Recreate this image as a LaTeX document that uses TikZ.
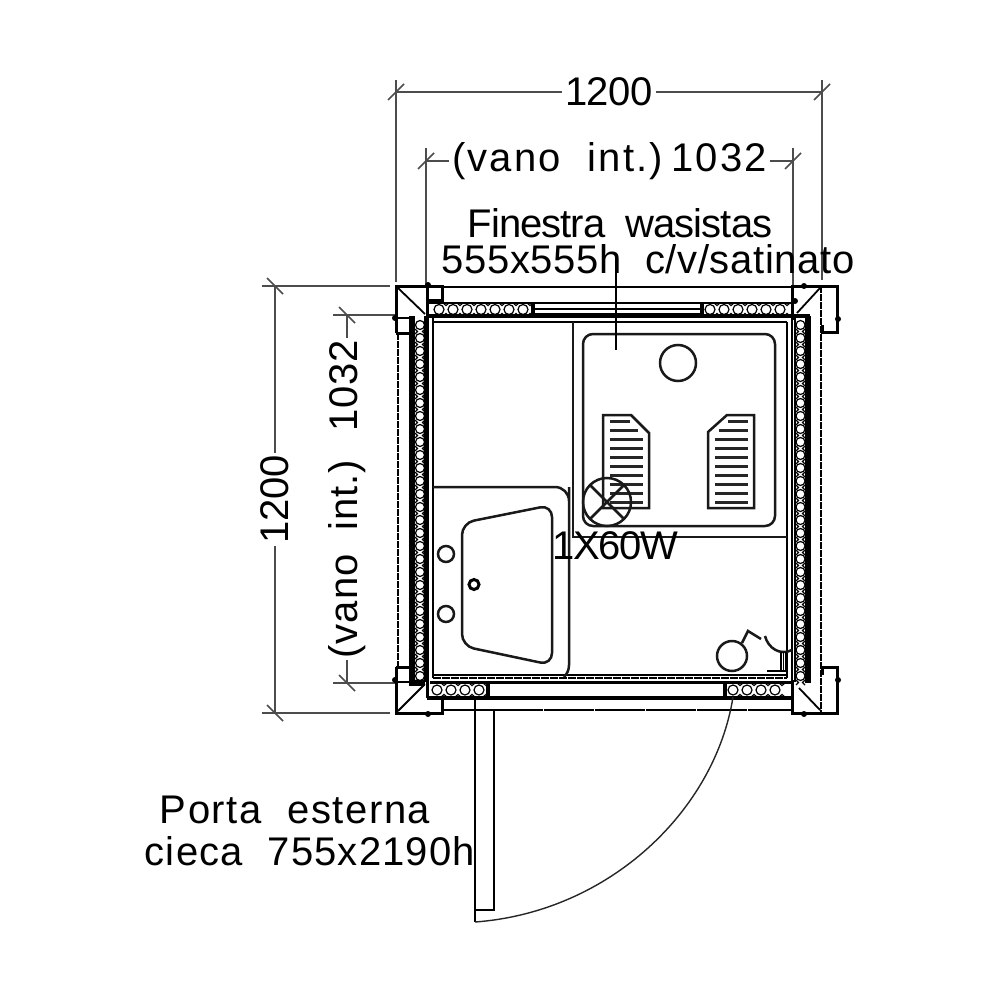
\documentclass[tikz,border=0pt]{standalone}
\usepackage{fontspec}
\newfontfamily\cadfont[WordSpace=2]{Liberation Sans}
\newcommand{\ls}[1]{\addfontfeature{LetterSpace=#1}}
\tikzset{
	txt/.style={font=\cadfont\fontsize{40}{40}\selectfont, inner sep=0pt, text=black},
	dim/.style={line width=1.5pt, black!70},
	wall/.style={line width=3pt},
	thin/.style={line width=1.8pt},
	fixture/.style={line width=2.5pt, black!90},
	hatch/.style={line width=3pt, black!85},
	peb/.style={line width=1.2pt}
}
\begin{document}
\begin{tikzpicture}[x=1pt, y=-1pt]
	\useasboundingbox (0,0) rectangle (1000,1000);
	\fill[white] (0,0) rectangle (1000,1000);
	% corners of the cabin
	\coordinate (TL) at (396,286);
	\coordinate (TR) at (837,286);
	\coordinate (BL) at (396,713);
	\coordinate (BR) at (837,713);
	% dimensions
	\coordinate (W1) at (396,92);
	\coordinate (W2) at (822,92);
	\coordinate (V1) at (426,161);
	\coordinate (V2) at (793,161);
	\coordinate (H1) at (275,286);
	\coordinate (H2) at (275,713);
	\coordinate (U1) at (347,315);
	\coordinate (U2) at (347,683);
	\draw[dim] (396,80) -- (396,282);
	\draw[dim] (822,80) -- (822,280);
	\draw[dim] (426,148) -- (426,285);
	\draw[dim] (793,148) -- (793,285);
	\draw[dim] (262,286) -- (390,286);
	\draw[dim] (262,713) -- (390,713);
	\draw[dim] (333,315) -- (395,315);
	\draw[dim] (333,683) -- (395,683);
	\draw[dim] (W1) -- node[fill=white, txt, inner xsep=3pt, inner ysep=3pt] (dimwidth) {\ls{-1}1200} (W2);
	\draw[dim] (V1) -- node[fill=white, txt, inner xsep=3pt, inner ysep=3pt] (dimvano) {\ls{5.5}(vano int.)\kern 8pt 1032} (V2);
	\draw[dim] (H1) -- node[fill=white, txt, rotate=90, inner xsep=3pt, inner ysep=3pt] (dimheight) {\ls{-1}1200} (H2);
	\draw[dim] (U1) -- node[fill=white, txt, rotate=90, inner xsep=2pt, inner ysep=3pt] (dimvanoh) {\ls{2.4}(vano int.) 1032} (U2);
	\foreach \x/\y in {396/92, 822/92, 426/161, 793/161}
		\draw[dim] ({\x-8},{\y+8}) -- ({\x+8},{\y-8});
	\foreach \x/\y in {275/286, 275/713, 347/315, 347/683}
		\draw[dim] ({\x-8},{\y-8}) -- ({\x+8},{\y+8});
	% posts
	\draw[wall] (396,333) -- (TL) -- (442,286) -- (442,300) -- (427,300) -- (427,288);
	\draw[wall] (396,333) -- (410,333);
	\draw[thin] (398,318) -- (412,318);
	\draw[wall] (822,325) -- (822,332) -- (837,332) -- (TR) -- (792,286) -- (792,320);
	\draw[wall] (396,667) -- (BL) -- (442,713) -- (442,698);
	\draw[wall] (396,667) -- (410,667);
	\draw[thin] (398,682) -- (412,682);
	\draw[wall] (822,675) -- (822,667) -- (837,667) -- (BR) -- (792,713) -- (792,680);
	\draw[thin] (398,288) -- (425,314);
	\draw[thin] (820,288) -- (797,313);
	\draw[thin] (398,711) -- (424,685);
	\draw[thin] (820,710) -- (799,688);
	\foreach \x/\y in {395/318, 428/285, 795/301, 838/319, 804/286, 395/680, 428/714, 804/714, 838/680}
		\fill (\x,\y) circle[radius=3];
	% outer skin
	\draw[wall, line width=2.6pt] (442,287) -- (792,287);
	\draw[thin, dash pattern=on 7pt off 1pt] (398,333) -- (398,667);
	\draw[thin, dash pattern=on 7pt off 1pt] (821,286) -- (821,713);
	\draw[wall, line width=2.6pt, dash pattern=on 50pt off 1pt] (442,710) -- (792,710);
	% insulated panels
	\foreach \y in {303,309,314}
		\draw[thin] (533,\y) -- (703,\y);
	\draw[thin] (427,303) -- (533,303) (703,303) -- (792,303);
	\draw[wall, line width=3.4pt] (427,316) -- (810,316);
	\draw[thin] (433,322) -- (787,322);
	\draw[line width=4.5pt] (533,303) -- (533,316);
	\draw[line width=4.5pt] (702,303) -- (702,316);
	\draw[wall] (430,682) -- (792,682);
	\draw[line width=3.8pt] (427,698) -- (792,698);
	\draw[line width=4.5pt] (488,682) -- (488,698);
	\draw[line width=4.5pt] (725,682) -- (725,698);
	\draw[thin] (433,675) -- (787,675);
	\draw[thin, dash pattern=on 8pt off 1pt] (433,678) -- (787,678);
	\draw[line width=6pt] (412,316) -- (412,683) -- (425,683);
	\draw[thin] (425,316) -- (425,682);
	\draw[line width=6pt] (808,316) -- (808,683);
	\draw[thin] (795,316) -- (795,682);
	\draw[wall] (427,288) -- (427,698);
	\draw[thin] (433,316) -- (433,678);
	\draw[thin] (787,322) -- (787,678);
	\draw[thin] (792,320) -- (792,682);
	% pebbles
	\foreach \x in {439,453,...,527}{
		\draw[peb] (\x,309.5) circle[radius=5];
		\draw[peb] ({\x+4},303) -- ({\x+7},305.5) -- ({\x+10},303) ({\x+4},316) -- ({\x+7},313.5) -- ({\x+10},316);
	}
	\foreach \x in {710,724,...,786}{
		\draw[peb] (\x,309.5) circle[radius=5];
		\draw[peb] ({\x+4},303) -- ({\x+7},305.5) -- ({\x+10},303) ({\x+4},316) -- ({\x+7},313.5) -- ({\x+10},316);
	}
	\foreach \x in {437,451,...,479}{
		\draw[peb] (\x,690) circle[radius=5];
		\draw[peb] ({\x+4},683) -- ({\x+7},685.5) -- ({\x+10},683) ({\x+4},697) -- ({\x+7},694.5) -- ({\x+10},697);
	}
	\foreach \x in {733,747,...,785}{
		\draw[peb] (\x,690) circle[radius=5];
		\draw[peb] ({\x+4},683) -- ({\x+7},685.5) -- ({\x+10},683) ({\x+4},697) -- ({\x+7},694.5) -- ({\x+10},697);
	}
	\foreach \y in {325,338,...,677}{
		\draw[peb] (420,\y) circle[radius=4.5];
		\draw[peb] (415,{\y+4}) -- (417.5,{\y+6.5}) -- (415,{\y+9}) (425,{\y+4}) -- (422.5,{\y+6.5}) -- (425,{\y+9});
		\draw[peb] (800.5,\y) circle[radius=4.5];
		\draw[peb] (796,{\y+4}) -- (798.5,{\y+6.5}) -- (796,{\y+9}) (805,{\y+4}) -- (802.5,{\y+6.5}) -- (805,{\y+9});
	}
	% shower
	\draw[fixture, line width=2pt] (573,322) -- (573,537) -- (787,537);
	\draw[fixture] (583,334) [rounded corners=10pt] -- (775,334) -- (775,526) -- (583,526) -- cycle;
	\draw[fixture] (678,363) circle[radius=18];
	\draw[fixture] (603,415) -- (631,415) -- (649,433) -- (649,508) -- (603,508) -- cycle;
	\draw[fixture] (754,415) -- (727,415) -- (708,432) -- (708,508) -- (754,508) -- cycle;
	\draw[hatch] (610,421) -- (630,421) (610,430) -- (638,430);
	\draw[hatch] (728,421) -- (748,421) (719,430) -- (748,430);
	\foreach \y in {439,448,...,502}{
		\draw[hatch] (610,\y) -- (643,\y);
		\draw[hatch] (715,\y) -- (748,\y);
	}
	% bench and basin
	\draw[fixture] (433,487) -- (555,487) [rounded corners=14pt] -- (569,487) -- (569,501) [sharp corners] -- (569,665) .. controls (569,670) and (567,674) .. (564,677);
	\draw[fixture] [rounded corners=12pt] (462,523) -- (552,505) -- (552,665) -- (462,646) -- cycle;
	\draw[line width=3pt] (474,584.5) circle[radius=5];
	\draw[fixture] (446,554) circle[radius=8];
	\draw[fixture] (446,614) circle[radius=8];
	% wc
	\draw[fixture] (732,656) circle[radius=15];
	\draw[fixture] (742,643) -- (748,631) -- (761,639);
	\draw[fixture] (765,636) .. controls (768,648) and (780,656) .. (792,650);
	\foreach \x in {781,783.5,786}
		\draw[thin] (\x,652) -- (\x,672);
	\draw[thin] (767,671) -- (787,671);
	% lamp
	\coordinate (LAMP) at (607,502);
	\draw[fixture] (LAMP) circle[radius=24];
	\draw[fixture] (590,485) -- (624,519) (590,519) -- (624,485);
	% door
	\draw[wall, line width=2.6pt] (475,697) -- (475,922);
	\draw[wall, line width=2.6pt] (475,710) -- (494,710) -- (494,910) -- (475,910);
	\draw[line width=1.4pt, black!85] (475,922) .. controls (610,912) and (715,810) .. (733,697);
	% labels
	\draw[line width=1.5pt] (616,258) -- (616,350);
	\node[txt, anchor=base] (window1) at (620,237) {\ls{-2.4}Finestra wasistas};
	\node[txt, anchor=base] (window2) at (648,273) {\ls{1.6}555x555h c/v/satinato};
	\node[txt, anchor=base] (lamplabel) at (615,559) {\ls{-3.5}1X60W};
	\node[txt, anchor=base] (door1) at (295,823) {\ls{4}Porta esterna};
	\node[txt, anchor=base] (door2) at (310,865) {\ls{3}cieca 755x2190h};
\end{tikzpicture}
\end{document}
